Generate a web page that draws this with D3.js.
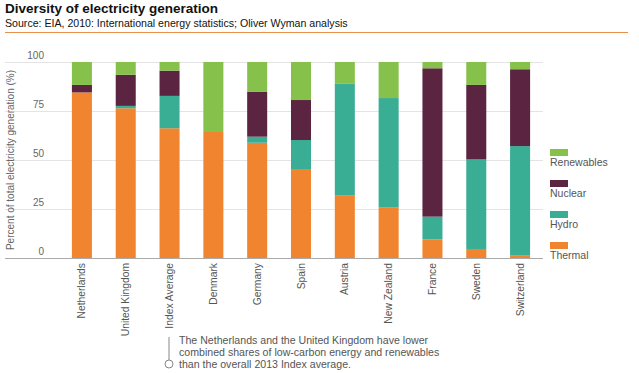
<!DOCTYPE html>
<html>
<head>
<meta charset="utf-8">
<script src="https://cdn.jsdelivr.net/npm/d3@7"></script>
<style>
  body { margin: 0; background: #fff; }
  svg { display: block; font-family: Arial, "Liberation Sans", sans-serif; }
</style>
</head>
<body>
<svg id="chart" width="639" height="373"></svg>
<script>
// data
var countries = ['Netherlands', 'United Kingdom', 'Index Average', 'Denmark', 'Germany', 'Spain',
                 'Austria', 'New Zealand', 'France', 'Sweden', 'Switzerland'];
var sources = ['Thermal', 'Hydro', 'Nuclear', 'Renewables'];
var thermal    = [84.5, 76.4, 66.2, 64.3, 58.8, 45.4, 31.8, 25.7,  9.5,  4.6,  1.2];
var hydro      = [ 0.0,  1.2, 16.5,  0.0,  3.1, 14.8, 57.3, 55.9, 11.6, 45.7, 55.9];
var nuclear    = [ 3.8, 15.9, 12.9,  0.0, 23.0, 20.4,  0.0,  0.0, 75.7, 38.0, 39.2];
var renewables = [11.7,  6.5,  4.4, 35.7, 15.1, 19.4, 10.9, 18.4,  3.2, 11.7,  3.7];
var yTicks = [0, 25, 50, 75, 100];
var colors = ['#f0842f', '#3aad95', '#5b2440', '#86c24b'];

var svg = d3.select('#chart');

// header
svg.append('text').attr('x', 5).attr('y', 13)
  .attr('font-size', '13.5px').attr('font-weight', 'bold').attr('fill', '#111')
  .text('Diversity of electricity generation');
svg.append('text').attr('x', 5).attr('y', 26.5)
  .attr('font-size', '10.6px').attr('fill', '#111')
  .text('Source: EIA, 2010: International energy statistics; Oliver Wyman analysis');
svg.append('line').attr('x1', 5).attr('x2', 628).attr('y1', 32.5).attr('y2', 32.5)
  .attr('stroke', '#e8904a').attr('stroke-width', 1.2);

var rows = countries.map(function(c, i) {
  return {country: c, Thermal: thermal[i], Hydro: hydro[i], Nuclear: nuclear[i], Renewables: renewables[i]};
});

var x = d3.scaleBand().domain(countries).range([60, 542]).paddingInner(0.543).paddingOuter(0.2715);
var y = d3.scaleLinear().domain([0, 100]).range([258, 62]);
var color = d3.scaleOrdinal().domain(sources).range(colors);

// gridlines
svg.append('g').selectAll('line').data(yTicks.filter(function(d){ return d > 0; })).join('line')
  .attr('x1', 5).attr('x2', 543)
  .attr('y1', function(d){ return y(d) + 0.5; }).attr('y2', function(d){ return y(d) + 0.5; })
  .attr('stroke', '#e4e4e4');

// y tick labels
svg.append('g').selectAll('text').data(yTicks).join('text')
  .attr('x', 44).attr('y', function(d){ return y(d) - 3; })
  .attr('text-anchor', 'end').attr('font-size', '10px').attr('fill', '#666')
  .text(function(d){ return d; });

svg.append('text')
  .attr('transform', 'translate(14,' + y(50) + ') rotate(-90)')
  .attr('text-anchor', 'middle').attr('font-size', '10px').attr('fill', '#666')
  .text('Percent of total electricity generation (%)');

// stacked bars
var stack = d3.stack().keys(sources)(rows);
svg.append('g').selectAll('g').data(stack).join('g')
  .attr('fill', function(d){ return color(d.key); })
  .selectAll('rect').data(function(d){ return d; }).join('rect')
  .attr('x', function(d){ return x(d.data.country); })
  .attr('width', x.bandwidth())
  .attr('y', function(d){ return y(d[1]); })
  .attr('height', function(d){ return y(d[0]) - y(d[1]); });

// x axis line
svg.append('line').attr('x1', 5).attr('x2', 543).attr('y1', 258.5).attr('y2', 258.5)
  .attr('stroke', '#aaa');

// x labels
svg.append('g').selectAll('text').data(countries).join('text')
  .attr('transform', function(d){ return 'translate(' + (x(d) + x.bandwidth() / 2 + 3.5) + ',263) rotate(-90)'; })
  .attr('text-anchor', 'end').attr('font-size', '10.3px').attr('fill', '#555')
  .text(function(d){ return d; });

// legend
var legend = svg.append('g').selectAll('g').data(sources.slice().reverse()).join('g')
  .attr('transform', function(d, i){ return 'translate(550,' + (149 + i * 31) + ')'; });
legend.append('rect').attr('width', 18).attr('height', 7)
  .attr('fill', function(d){ return color(d); });
legend.append('text').attr('y', 17).attr('font-size', '10.5px').attr('fill', '#555')
  .text(function(d){ return d; });

// annotation
svg.append('line').attr('x1', 169).attr('x2', 169).attr('y1', 337).attr('y2', 360)
  .attr('stroke', '#888');
svg.append('circle').attr('cx', 169).attr('cy', 364).attr('r', 4)
  .attr('fill', '#fff').attr('stroke', '#888');
var note = ['The Netherlands and the United Kingdom have lower',
            'combined shares of low-carbon energy and renewables',
            'than the overall 2013 Index average.'];
svg.append('g').selectAll('text').data(note).join('text')
  .attr('x', 179).attr('y', function(d, i){ return 344 + i * 12; })
  .attr('font-size', '10.6px').attr('fill', '#555')
  .text(function(d){ return d; });
</script>
</body>
</html>
